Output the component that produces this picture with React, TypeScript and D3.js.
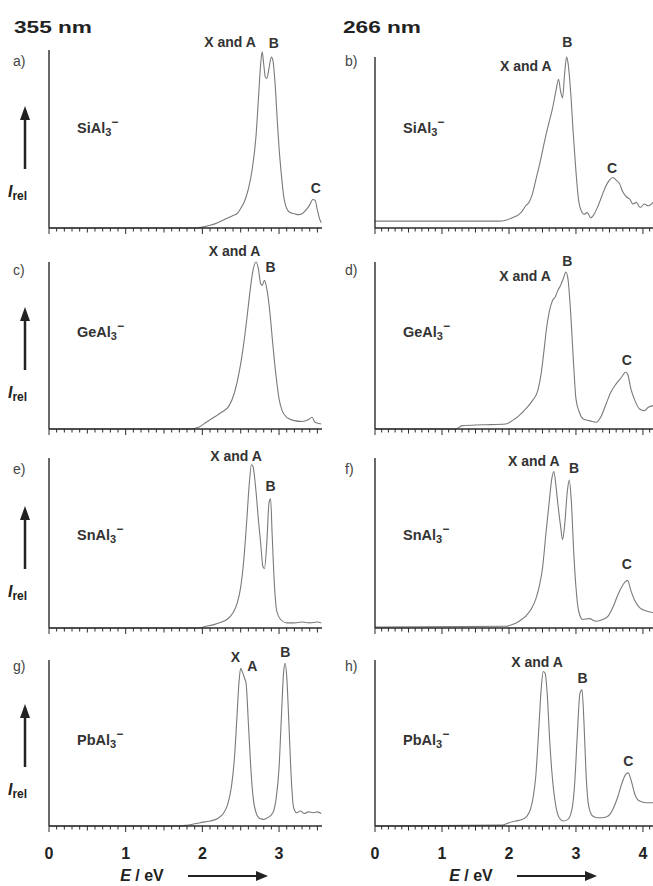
import React from "react";
import * as d3 from "d3";

// ---- data: [E (eV), relative intensity] ----
const siAl3_355: [number, number][] = [[0,0],[1.9,0],[2.0,0.005],[2.1,0.015],[2.2,0.03],[2.25,0.04],[2.3,0.05],[2.35,0.06],[2.4,0.07],[2.45,0.08],[2.5,0.11],[2.55,0.15],[2.6,0.22],[2.65,0.33],[2.7,0.52],[2.73,0.72],[2.76,0.92],[2.78,0.99],[2.8,0.92],[2.82,0.85],[2.84,0.84],[2.87,0.9],[2.9,0.96],[2.92,0.94],[2.95,0.8],[2.98,0.58],[3.0,0.45],[3.03,0.3],[3.06,0.18],[3.1,0.11],[3.15,0.085],[3.2,0.08],[3.25,0.075],[3.3,0.08],[3.35,0.1],[3.4,0.13],[3.44,0.16],[3.47,0.155],[3.5,0.1],[3.53,0.05],[3.55,0.03]];
const siAl3_266: [number, number][] = [[0,0.04],[1.85,0.04],[1.95,0.045],[2.05,0.06],[2.15,0.08],[2.2,0.1],[2.25,0.13],[2.3,0.15],[2.35,0.2],[2.4,0.28],[2.45,0.36],[2.5,0.45],[2.55,0.54],[2.6,0.62],[2.65,0.7],[2.7,0.8],[2.74,0.87],[2.77,0.8],[2.8,0.76],[2.83,0.9],[2.86,1.0],[2.88,0.97],[2.92,0.8],[2.96,0.55],[3.0,0.33],[3.04,0.16],[3.08,0.1],[3.12,0.08],[3.17,0.09],[3.22,0.06],[3.27,0.08],[3.32,0.12],[3.38,0.18],[3.44,0.24],[3.5,0.28],[3.55,0.295],[3.6,0.28],[3.65,0.26],[3.7,0.21],[3.76,0.18],[3.8,0.17],[3.85,0.14],[3.9,0.15],[3.96,0.12],[4.02,0.14],[4.08,0.13],[4.15,0.15]];
const geAl3_355: [number, number][] = [[0,0],[1.85,0],[1.95,0.01],[2.05,0.04],[2.15,0.07],[2.25,0.1],[2.35,0.14],[2.42,0.22],[2.48,0.34],[2.53,0.48],[2.58,0.66],[2.62,0.82],[2.66,0.95],[2.7,1.0],[2.73,0.96],[2.76,0.87],[2.78,0.86],[2.81,0.89],[2.84,0.84],[2.88,0.7],[2.92,0.5],[2.96,0.32],[3.0,0.18],[3.04,0.11],[3.1,0.07],[3.2,0.05],[3.3,0.045],[3.38,0.055],[3.43,0.07],[3.47,0.04],[3.55,0.03]];
const geAl3_266: [number, number][] = [[0,0],[1.2,0],[1.3,0.02],[1.6,0.025],[1.95,0.03],[2.05,0.05],[2.15,0.08],[2.25,0.12],[2.35,0.17],[2.43,0.23],[2.48,0.33],[2.52,0.46],[2.56,0.6],[2.6,0.7],[2.65,0.77],[2.69,0.79],[2.73,0.83],[2.77,0.86],[2.81,0.9],[2.85,0.94],[2.88,0.9],[2.92,0.7],[2.96,0.42],[3.0,0.18],[3.05,0.1],[3.11,0.06],[3.2,0.05],[3.3,0.04],[3.38,0.08],[3.45,0.15],[3.52,0.22],[3.6,0.27],[3.68,0.31],[3.74,0.34],[3.77,0.33],[3.82,0.24],[3.88,0.17],[3.95,0.12],[4.02,0.11],[4.08,0.13],[4.15,0.14]];
const snAl3_355: [number, number][] = [[0,0],[1.95,0],[2.05,0.01],[2.15,0.02],[2.25,0.035],[2.32,0.05],[2.4,0.09],[2.45,0.14],[2.5,0.24],[2.54,0.4],[2.58,0.64],[2.61,0.84],[2.64,0.96],[2.66,0.95],[2.7,0.8],[2.73,0.64],[2.76,0.5],[2.79,0.36],[2.81,0.35],[2.84,0.5],[2.87,0.74],[2.89,0.76],[2.91,0.55],[2.94,0.25],[2.97,0.1],[3.02,0.05],[3.1,0.03],[3.2,0.03],[3.3,0.035],[3.4,0.03],[3.5,0.035],[3.55,0.03]];
const snAl3_266: [number, number][] = [[0,0.005],[1.95,0.01],[2.05,0.02],[2.15,0.04],[2.25,0.07],[2.33,0.11],[2.4,0.17],[2.46,0.26],[2.5,0.35],[2.55,0.55],[2.6,0.74],[2.64,0.88],[2.67,0.92],[2.7,0.84],[2.73,0.73],[2.77,0.6],[2.8,0.52],[2.83,0.6],[2.87,0.8],[2.9,0.87],[2.93,0.75],[2.97,0.42],[3.0,0.24],[3.04,0.1],[3.1,0.05],[3.2,0.055],[3.3,0.04],[3.4,0.05],[3.48,0.07],[3.55,0.12],[3.62,0.19],[3.68,0.24],[3.73,0.27],[3.77,0.28],[3.82,0.22],[3.88,0.16],[3.95,0.12],[4.05,0.1],[4.15,0.09]];
const pbAl3_355: [number, number][] = [[0,0],[1.7,0],[1.8,0.005],[1.97,0.02],[2.1,0.03],[2.2,0.045],[2.28,0.08],[2.33,0.13],[2.38,0.24],[2.42,0.42],[2.45,0.65],[2.48,0.88],[2.5,0.95],[2.52,0.93],[2.55,0.89],[2.57,0.86],[2.6,0.62],[2.63,0.36],[2.66,0.18],[2.7,0.08],[2.75,0.045],[2.8,0.04],[2.85,0.05],[2.92,0.08],[2.96,0.16],[3.0,0.35],[3.03,0.65],[3.06,0.93],[3.08,0.98],[3.1,0.9],[3.13,0.6],[3.16,0.28],[3.19,0.11],[3.23,0.08],[3.28,0.09],[3.33,0.075],[3.38,0.085],[3.45,0.08],[3.5,0.085],[3.55,0.075]];
const pbAl3_266: [number, number][] = [[0,0],[1.9,0.005],[2.0,0.02],[2.1,0.03],[2.2,0.04],[2.27,0.06],[2.32,0.1],[2.36,0.17],[2.4,0.3],[2.44,0.55],[2.48,0.82],[2.51,0.93],[2.54,0.92],[2.57,0.8],[2.61,0.5],[2.65,0.28],[2.7,0.12],[2.75,0.05],[2.81,0.03],[2.88,0.04],[2.94,0.1],[2.98,0.25],[3.02,0.55],[3.06,0.8],[3.09,0.82],[3.12,0.62],[3.15,0.32],[3.19,0.12],[3.25,0.06],[3.32,0.05],[3.4,0.05],[3.48,0.06],[3.55,0.1],[3.62,0.17],[3.68,0.25],[3.74,0.31],[3.78,0.32],[3.82,0.28],[3.88,0.19],[3.95,0.15],[4.05,0.14],[4.15,0.14]];

const columnTitles = ["355 nm", "266 nm"];
const compounds = ["Si", "Ge", "Sn", "Pb"];
const panelLetters = [["a)", "b)"], ["c)", "d)"], ["e)", "f)"], ["g)", "h)"]];
const spectra = [[siAl3_355, siAl3_266], [geAl3_355, geAl3_266], [snAl3_355, snAl3_266], [pbAl3_355, pbAl3_266]];
// peak annotations: [text, E, I]
const peakLabels: [string, number, number][][][] = [
  [[["X and A", 2.36, 1.017], ["B", 2.93, 1.011], ["C", 3.48, 0.197]], [["X and A", 2.25, 0.918], ["B", 2.87, 1.058], ["C", 3.54, 0.322]]],
  [[["X and A", 2.42, 1.036], ["B", 2.89, 0.94]], [["X and A", 2.24, 0.886], ["B", 2.87, 0.976], ["C", 3.76, 0.386]]],
  [[["X and A", 2.44, 0.982], ["B", 2.89, 0.806]], [["X and A", 2.37, 0.953], ["B", 2.97, 0.912], ["C", 3.76, 0.347]]],
  [[["X", 2.43, 0.988], ["A", 2.65, 0.934], ["B", 3.08, 1.018]], [["X and A", 2.42, 0.958], ["B", 3.1, 0.861], ["C", 3.78, 0.361]]],
];
const xMax = [3.56, 4.15];
const xTickLabels = [[0, 1, 2, 3], [0, 1, 2, 3, 4]];

// ---- layout ----
const W = 653, H = 886;
const rowBottom = [228, 429, 628, 826];
const rowTop = [[50, 57], [262, 262], [458, 458], [660, 660]];
const colX0 = [49, 375];
const colX1 = [322, 653];
const FONT = "Arial, 'Liberation Sans', Helvetica, sans-serif";
const AXIS = "#2a2a2a";
const LINE = "#7a7a7a";

function Panel({ r, c }: { r: number; c: number }) {
  const x = d3.scaleLinear().domain([0, xMax[c]]).range([colX0[c], colX1[c]]);
  const y = d3.scaleLinear().domain([0, 1]).range([rowBottom[r], rowTop[r][c]]);
  const line = d3.line<[number, number]>().x(d => x(d[0])).y(d => y(d[1])).curve(d3.curveMonotoneX);
  const ticks = d3.range(0, Math.floor(xMax[c] * 10 + 1e-6) + 1).map(i => i / 10);
  const b = rowBottom[r];
  const top = rowTop[r][c];
  return (
    <g>
      <path d={line(spectra[r][c]) || ""} fill="none" stroke={LINE} strokeWidth={1.1} />
      <line x1={colX0[c]} x2={colX0[c]} y1={top} y2={b} stroke={AXIS} strokeWidth={1.4} />
      <line x1={colX0[c]} x2={colX1[c]} y1={b} y2={b} stroke={AXIS} strokeWidth={1.4} />
      {ticks.map((t, i) => {
        const k = Math.round(t * 10);
        const len = k % 10 === 0 ? 6 : k % 5 === 0 ? 4.5 : 3.5;
        return <line key={i} x1={x(t)} x2={x(t)} y1={b} y2={b + len} stroke={AXIS} strokeWidth={1} />;
      })}
      {r === 3 && xTickLabels[c].map(t => (
        <text key={t} x={x(t)} y={859} textAnchor="middle" fontSize={16} fontWeight="bold" fill="#222">{t}</text>
      ))}
      <text x={c === 0 ? 13 : 345} y={[66, 275, 474, 671][r]} fontSize={14} fill="#444">{panelLetters[r][c]}</text>
      <text x={c === 0 ? 77 : 403} y={[133, 337, 540, 745][r]} fontSize={14.5} fontWeight="bold" fill="#333">
        {compounds[r]}Al<tspan fontSize={11} dy={3}>3</tspan><tspan fontSize={12} dy={-10}>−</tspan>
      </text>
      {peakLabels[r][c].map(([t, e, v], i) => (
        <text key={i} x={x(e)} y={y(v)} textAnchor="middle" fontSize={14} fontWeight="bold" fill="#333">{t}</text>
      ))}
      {c === 0 && (
        <g>
          <line x1={25} x2={25} y1={b - 112} y2={b - 59} stroke="#222" strokeWidth={2.5} />
          <path d={`M${25 - 5},${b - 108} L${25 + 5},${b - 108} L25,${b - 122} Z`} fill="#222" />
          <text x={8} y={b - 31} fontSize={16} fontWeight="bold" fill="#222">
            <tspan fontStyle="italic">I</tspan><tspan fontSize={12} dy={3}>rel</tspan>
          </text>
        </g>
      )}
    </g>
  );
}

export default function App() {
  return (
    <svg width={W} height={H} style={{ position: "absolute", left: 0, top: 0, background: "#fff" }} fontFamily={FONT}>
      <rect width={W} height={H} fill="#fff" />
      <text x={14} y={33} fontSize={17} fontWeight="bold" fill="#222" textLength={78} lengthAdjust="spacingAndGlyphs">{columnTitles[0]}</text>
      <text x={343} y={33} fontSize={17} fontWeight="bold" fill="#222" textLength={78} lengthAdjust="spacingAndGlyphs">{columnTitles[1]}</text>
      {[0, 1, 2, 3].map(r => [0, 1].map(c => <Panel key={`${r}-${c}`} r={r} c={c} />))}
      {[0, 1].map(c => {
        const cx = [142, 471][c];
        const a0 = [188, 517][c];
        const a1 = [268, 597][c];
        return (
          <g key={c}>
            <text x={cx} y={881} textAnchor="middle" fontSize={16} fontWeight="bold" fill="#222">
              <tspan fontStyle="italic">E</tspan> / eV
            </text>
            <line x1={a0} x2={a1 - 10} y1={876} y2={876} stroke="#222" strokeWidth={2} />
            <path d={`M${a1 - 12},${871} L${a1},${876} L${a1 - 12},${881} Z`} fill="#222" />
          </g>
        );
      })}
    </svg>
  );
}
